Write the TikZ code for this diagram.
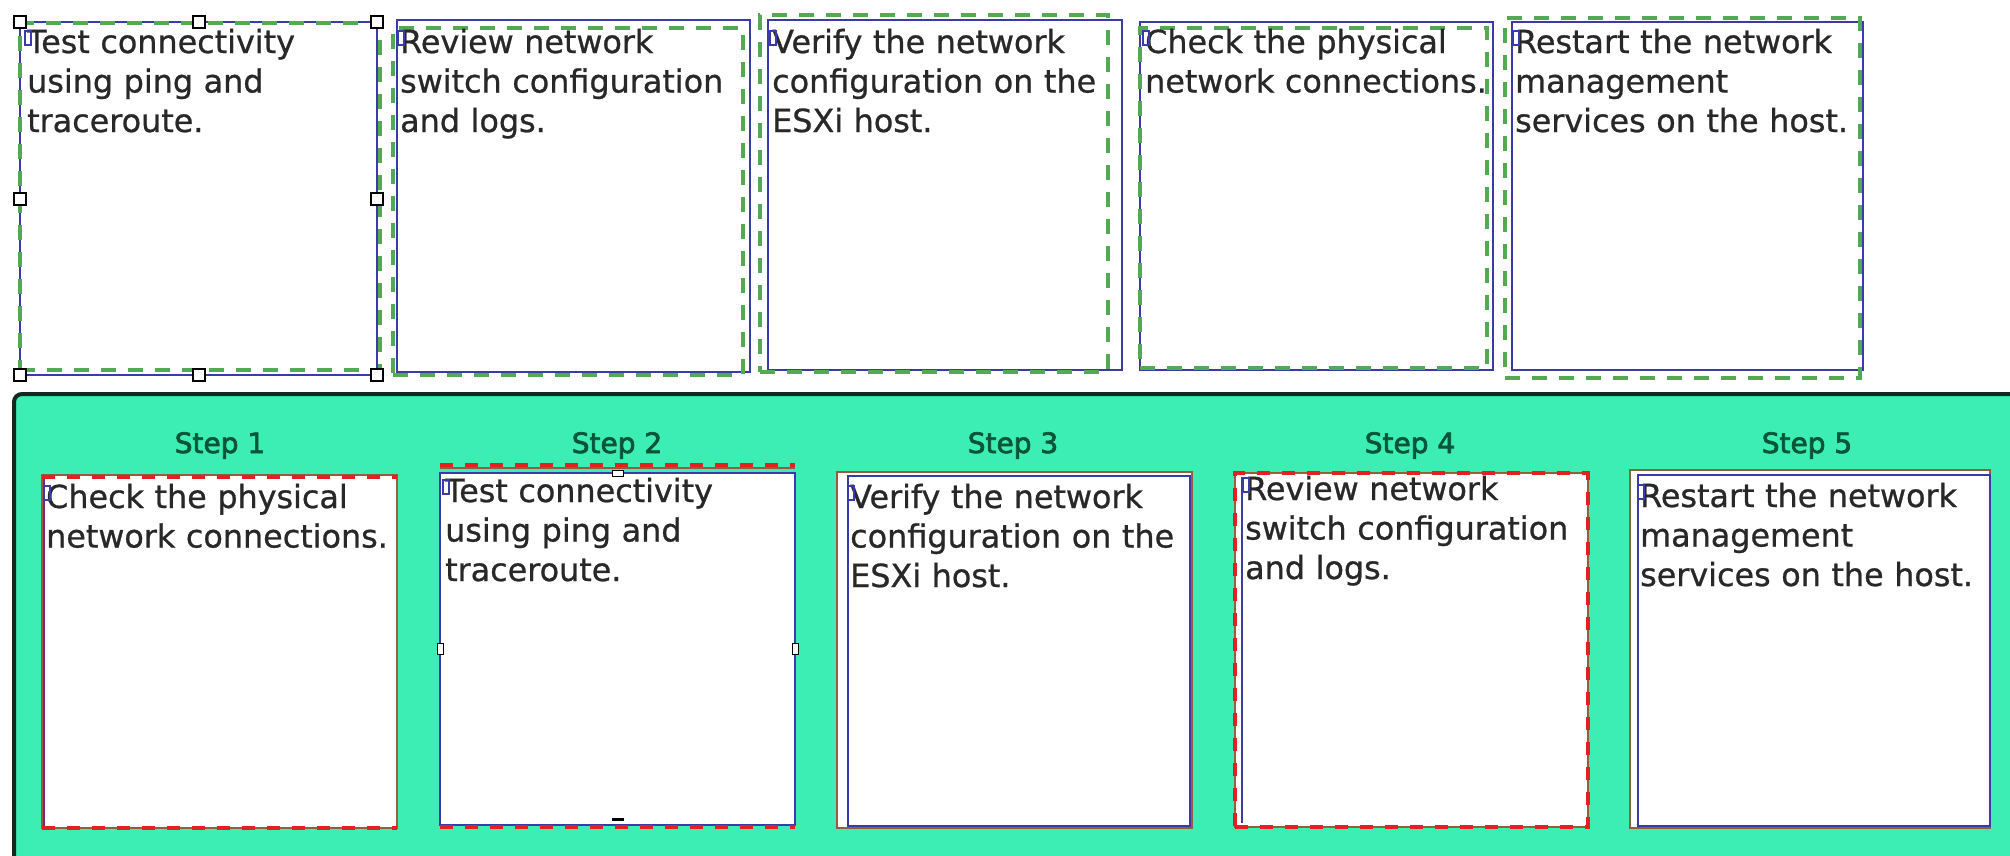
\documentclass[tikz,border=0pt]{standalone}
\usepackage{fontspec}
\setmainfont{DejaVu Sans}
\newfontfamily\bodyfont[FakeBold=0.8]{DejaVu Sans}
\newfontfamily\labelfont[FakeBold=2.5]{DejaVu Sans}
\definecolor{boxblue}{RGB}{58,58,168}
\definecolor{dashgreen}{RGB}{84,170,84}
\definecolor{dashred}{RGB}{228,32,32}
\definecolor{boxbrown}{RGB}{150,92,62}
\definecolor{panelgreen}{RGB}{60,237,180}
\definecolor{panelline}{RGB}{20,40,32}
\definecolor{stepgreen}{RGB}{10,84,56}
\definecolor{txtgray}{RGB}{40,40,40}
\tikzset{
  box/.style={anchor=north west, inner sep=0pt, outer sep=0pt},
  bluebox/.style={box, draw=boxblue, line width=2pt},
  greendash/.style={box, draw=dashgreen, line width=3.5pt, dash pattern=on 15pt off 12pt},
  brownbox/.style={box, draw=boxbrown, fill=white, line width=2pt},
  reddashbox/.style={box, draw=dashred, line width=3.5pt, dash pattern=on 13pt off 12pt},
  reddash/.style={draw=dashred, line width=4pt, dash pattern=on 13pt off 12pt},
  txt/.style={anchor=base west, inner sep=0pt, text width=380pt, align=left,
    text=txtgray, font=\bodyfont\fontsize{31.8}{39.5}\selectfont},
  steplabel/.style={anchor=base, inner sep=0pt, text=stepgreen,
    font=\labelfont\fontsize{28}{32}\selectfont},
  handle/.style={draw=black, fill=white, line width=2pt, minimum size=12pt, inner sep=0pt},
  smallhandle/.style={draw=black, fill=white, line width=1pt, minimum width=6pt, minimum height=11pt, inner sep=0pt},
  cursor/.style={draw=boxblue, line width=1.5pt},
}
\begin{document}
\begin{tikzpicture}[x=1pt, y=-1pt]
\useasboundingbox (0,0) rectangle (2010,855);
\fill[white] (0,0) rectangle (2010,855);

% ---------- top row ----------
\node[bluebox, minimum width=357pt, minimum height=353pt] (top1) at (20,22) {};
\node[greendash, minimum width=360pt, minimum height=347pt] (top1g) at (20,23) {};
\node[bluebox, minimum width=353pt, minimum height=352pt] (top2) at (397,20) {};
\node[greendash, minimum width=350pt, minimum height=347pt] (top2g) at (393,28) {};
\node[bluebox, minimum width=354pt, minimum height=350pt] (top3) at (768,20) {};
\node[greendash, minimum width=348pt, minimum height=357pt] (top3g) at (760,15) {};
\node[bluebox, minimum width=353pt, minimum height=348pt] (top4) at (1140,22) {};
\node[greendash, minimum width=347pt, minimum height=340pt] (top4g) at (1140,28) {};
\node[bluebox, minimum width=351pt, minimum height=348pt] (top5) at (1512,22) {};
\node[greendash, minimum width=355pt, minimum height=360pt] (top5g) at (1505,18) {};

\node[txt] (top1t) at (27,53) {Test connectivity\\using ping and\\traceroute.};
\node[txt] (top2t) at (400,53) {Review network\\switch configuration\\and logs.};
\node[txt] (top3t) at (772,53) {Verify the network\\configuration on the\\ESXi host.};
\node[txt] (top4t) at (1145,53) {Check the physical\\network connections.};
\node[txt] (top5t) at (1515,53) {Restart the network\\management\\services on the host.};

\foreach \n in {top1t,top2t,top3t,top4t,top5t}
  \draw[cursor] ([xshift=-2pt,yshift=22pt]\n.base west) rectangle ([xshift=4pt,yshift=8pt]\n.base west);

% selection handles on the first box
\foreach \a/\nm in {north west/h1, north/h2, north east/h3, west/h4, east/h5, south west/h6, south/h7, south east/h8}
  \node[handle] (\nm) at (top1.\a) {};

% ---------- bottom panel ----------
\begin{scope}
\clip (0,0) rectangle (2010,855);
\draw[fill=panelgreen, draw=panelline, line width=4pt, rounded corners=8pt] (14,394) rectangle (2060,920);
\end{scope}

\node[steplabel] (s1) at (220,453) {Step 1};
\node[steplabel] (s2) at (617,453) {Step 2};
\node[steplabel] (s3) at (1013,453) {Step 3};
\node[steplabel] (s4) at (1410,453) {Step 4};
\node[steplabel] (s5) at (1807,453) {Step 5};

% step 1 box
\node[brownbox, minimum width=355pt, minimum height=353pt] (b1) at (42,475) {};
\draw[reddash] ([yshift=-2pt]b1.north west) -- ([yshift=-2pt]b1.north east);
\draw[reddash] (b1.south west) -- (b1.south east);
\draw[draw=boxblue!70!red, line width=2.5pt] ([xshift=2pt,yshift=-4pt]b1.north west) -- ([xshift=2pt,yshift=2pt]b1.south west);

% step 2 box
\node[bluebox, fill=white, minimum width=355pt, minimum height=352pt] (b2) at (440,473) {};
\draw[boxbrown, line width=1.5pt] ([yshift=5pt]b2.north west) -- ([yshift=5pt]b2.north east);
\draw[reddash] ([yshift=8pt]b2.north west) -- ([yshift=8pt]b2.north east);
\draw[reddash] ([yshift=-2pt]b2.south west) -- ([yshift=-2pt]b2.south east);
\node[smallhandle] (b2h1) at (b2.west) {};
\node[smallhandle] (b2h2) at (b2.east) {};
\node[smallhandle, minimum width=11pt, minimum height=6pt] (b2h3) at (b2.north) {};
\fill[black] ([xshift=-6pt,yshift=4pt]b2.south) rectangle ([xshift=6pt,yshift=7pt]b2.south);

% step 3 box
\node[brownbox, minimum width=355pt, minimum height=356pt] (b3) at (837,472) {};
\node[bluebox, minimum width=342pt, minimum height=350pt] (b3i) at (848,476) {};

% step 4 box
\node[brownbox, minimum width=353pt, minimum height=354pt] (b4) at (1235,473) {};
\node[reddashbox, minimum width=353pt, minimum height=354pt] (b4r) at (1235,473) {};
\draw[draw=boxblue, line width=2pt] ([xshift=7pt,yshift=-4pt]b4.north west) -- ([xshift=7pt,yshift=4pt]b4.south west);

% step 5 box
\node[brownbox, minimum width=360pt, minimum height=358pt] (b5) at (1630,470) {};
\node[bluebox, minimum width=352pt, minimum height=351pt] (b5i) at (1638,475) {};

\node[txt] (b1t) at (46,508) {Check the physical\\network connections.};
\node[txt] (b2t) at (445,502) {Test connectivity\\using ping and\\traceroute.};
\node[txt] (b3t) at (850,508) {Verify the network\\configuration on the\\ESXi host.};
\node[txt] (b4t) at (1245,500) {Review network\\switch configuration\\and logs.};
\node[txt] (b5t) at (1640,507) {Restart the network\\management\\services on the host.};

\foreach \n in {b1t,b2t,b3t,b4t,b5t}
  \draw[cursor] ([xshift=-2pt,yshift=22pt]\n.base west) rectangle ([xshift=4pt,yshift=8pt]\n.base west);
\end{tikzpicture}
\end{document}
